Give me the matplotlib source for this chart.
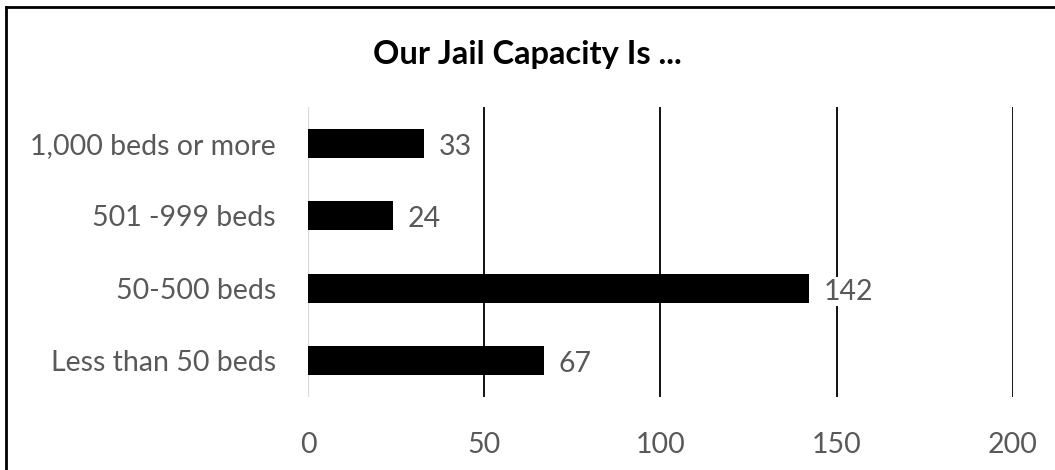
import matplotlib.pyplot as plt
from matplotlib.lines import Line2D

categories = ['Less than 50 beds', '50-500 beds', '501 -999 beds', '1,000 beds or more']
counts = [67, 142, 24, 33]
x_ticks = [0, 50, 100, 150, 200]

GRAY = '#595959'


def main():
    plt.rcParams['font.family'] = ['Lato', 'DejaVu Sans']

    fig = plt.figure(figsize=(10.55, 4.7), dpi=100)
    ax = fig.add_axes([0.2919, 0.1553, 0.9602 - 0.2919, 0.7723 - 0.1553])

    ypos = list(range(len(categories)))
    ax.barh(ypos, counts, height=0.4, color='black', zorder=3)

    for y, v in zip(ypos, counts):
        ax.text(v + 4.2, y - 0.05, str(v), va='center', ha='left',
                fontsize=20.5, color=GRAY, zorder=4,
                bbox=dict(facecolor='white', edgecolor='none', pad=1))

    ax.set_xlim(0, 200)
    ax.set_ylim(-0.5, len(categories) - 0.5)
    ax.set_xticks(x_ticks)
    ax.set_yticks(ypos)
    ax.set_yticklabels(categories)

    # vertical gridlines in black, zero line light gray
    for t in x_ticks[1:]:
        ax.axvline(t, color='black', linewidth=1.3, zorder=1)
    ax.axvline(0, color='#d9d9d9', linewidth=1.5, zorder=2)

    for s in ax.spines.values():
        s.set_visible(False)
    ax.tick_params(axis='both', length=0, labelsize=20.5, labelcolor=GRAY)
    ax.tick_params(axis='x', pad=25)
    ax.tick_params(axis='y', pad=23)

    fig.text(0.5, 0.885, 'Our Jail Capacity Is ...', ha='center', va='center',
             fontsize=23.5, fontweight='bold', color='black')

    # chart border: only top and left edges fall inside the image
    fig.lines.append(Line2D([0.0057, 1.0], [0.985, 0.985], transform=fig.transFigure,
                            color='black', linewidth=2))
    fig.lines.append(Line2D([0.0057, 0.0057], [0.0, 0.985], transform=fig.transFigure,
                            color='black', linewidth=2))

    fig.savefig('out.png', dpi=100)


if __name__ == '__main__':
    main()
